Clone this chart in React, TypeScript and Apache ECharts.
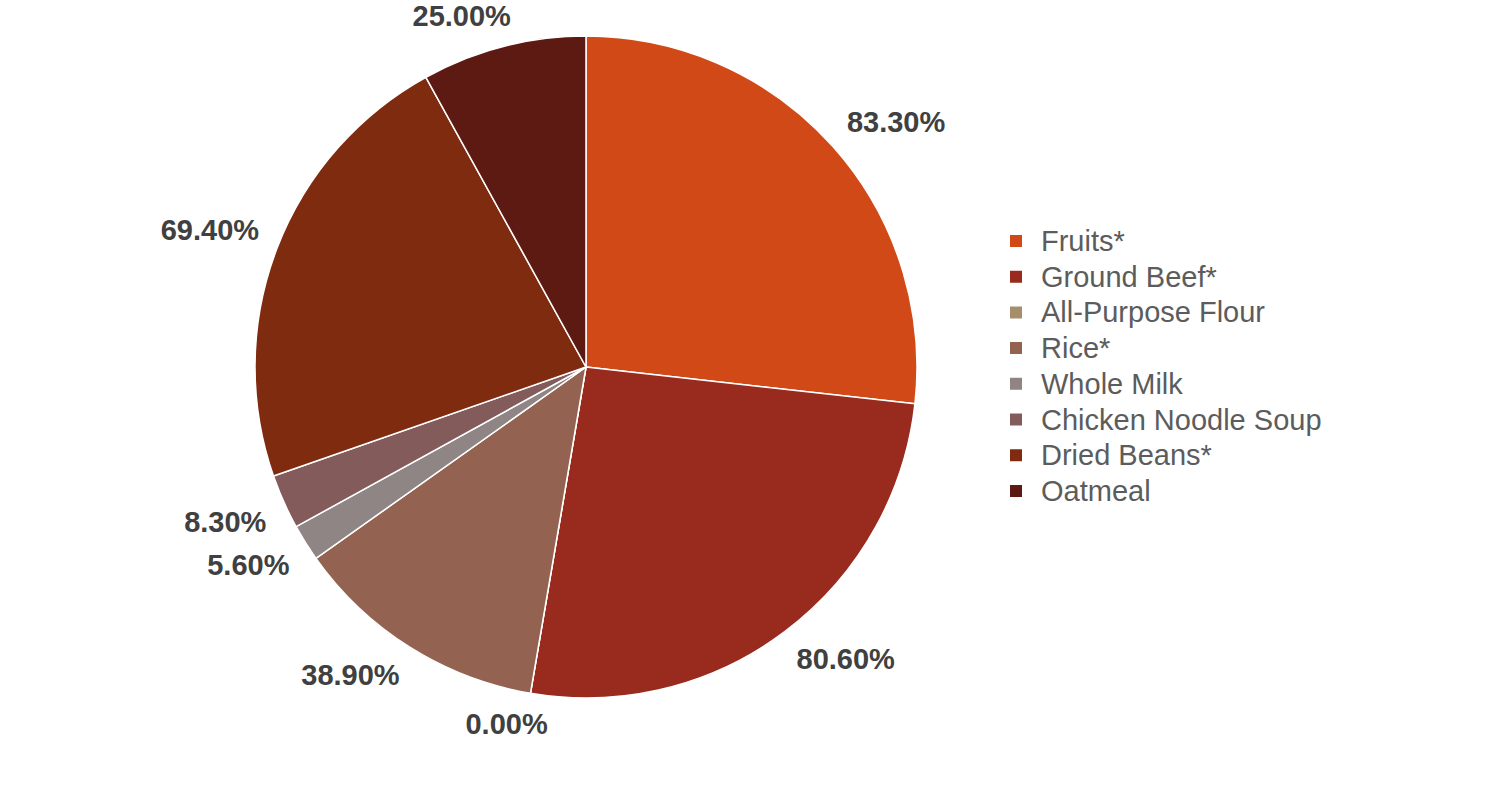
import React, { useEffect, useRef } from "react";
import * as echarts from "echarts";

const categories = [
  "Fruits*",
  "Ground Beef*",
  "All-Purpose Flour",
  "Rice*",
  "Whole Milk",
  "Chicken Noodle Soup",
  "Dried Beans*",
  "Oatmeal",
];
const values = [83.3, 80.6, 0.0, 38.9, 5.6, 8.3, 69.4, 25.0];
const colors = [
  "#D14916",
  "#992B1E",
  "#A48E6C",
  "#946251",
  "#8E8584",
  "#835B5B",
  "#7E2B0F",
  "#5D1A13",
];

const CX = 586;
const CY = 367;
const R = 331;
const LABEL_GAP = 350;

export default function App() {
  const ref = useRef<HTMLDivElement>(null);
  useEffect(() => {
    if (!ref.current) return;
    const chart = echarts.init(ref.current, undefined, { renderer: "svg" });
    const total = values.reduce((a, b) => a + b, 0);
    const cum: number[] = [];
    let acc = 0;
    values.forEach((v) => {
      cum.push(acc);
      acc += v;
    });
    const clamp = (t: number) => Math.max(-1, Math.min(1, t));
    chart.setOption({
      animation: false,
      legend: {
        orient: "vertical",
        left: 1003,
        top: 221,
        icon: "rect",
        itemWidth: 14,
        itemHeight: 14,
        itemGap: 5.7,
        data: categories,
        textStyle: {
          fontFamily: "Liberation Sans, Arial, sans-serif",
          fontSize: 29,
          color: "#5c5c5c",
          lineHeight: 30,
          padding: [0, 0, 0, 13],
        },
      },
      series: [
        {
          type: "pie",
          center: [CX, CY],
          radius: R,
          startAngle: 90,
          clockwise: true,
          avoidLabelOverlap: false,
          data: categories.map((name, i) => ({
            name,
            value: values[i],
            itemStyle: { color: colors[i] },
          })),
          itemStyle: { borderColor: "#ffffff", borderWidth: 1.5 },
          label: {
            show: true,
            position: "outside",
            formatter: (p: any) => Number(p.value).toFixed(2) + "%",
            fontFamily: "Liberation Sans, Arial, sans-serif",
            fontWeight: "bold",
            fontSize: 29,
            color: "#404040",
          },
          labelLine: { show: false },
          labelLayout: (params: any) => {
            const i = params.dataIndex;
            const frac = (cum[i] + values[i] / 2) / total;
            const theta = ((90 - 360 * frac) * Math.PI) / 180;
            const c = Math.cos(theta);
            const s = Math.sin(theta);
            const px = CX + LABEL_GAP * c;
            const py = CY - LABEL_GAP * s;
            const w = params.labelRect.width / 2;
            const h = 12;
            return {
              x: px + w * clamp(c * 3),
              y: py - h * clamp(s * 3),
              align: "center",
              verticalAlign: "middle",
            };
          },
          emphasis: { disabled: true },
        },
      ],
    });
    return () => chart.dispose();
  }, []);
  return (
    <div
      ref={ref}
      style={{ position: "fixed", left: 0, top: 0, width: 1503, height: 809, background: "#fff" }}
    />
  );
}
